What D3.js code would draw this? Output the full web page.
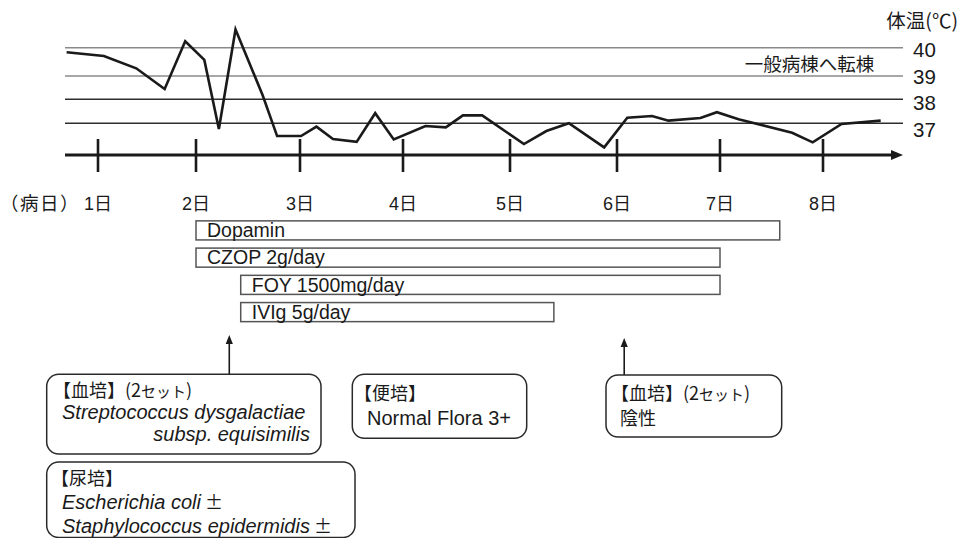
<!DOCTYPE html>
<html><head><meta charset="utf-8">
<script src="https://cdn.jsdelivr.net/npm/d3@7/dist/d3.min.js"></script>
<style>
html,body{margin:0;padding:0;background:#fff;}
svg{display:block;}
.lat{font-family:"Liberation Sans",Arial,sans-serif;}
.cjk{font-family:"Noto Sans CJK JP","Noto Sans CJK SC",sans-serif;}
</style></head>
<body>
<svg id="chart" width="960" height="538"></svg>
<script>
// ---------- data ----------
const days = [1, 2, 3, 4, 5, 6, 7, 8];
const dayLabels = ["1日", "2日", "3日", "4日", "5日", "6日", "7日", "8日"];
const tempTicks = [37, 38, 39, 40];
const tempTickLabels = ["37", "38", "39", "40"];
const tempDays = [0.68, 1.06, 1.39, 1.68, 1.89, 2.08, 2.22, 2.38, 2.64, 2.78, 3.01, 3.16, 3.32, 3.55, 3.73, 3.91,
  4.21, 4.40, 4.56, 4.74, 5.13, 5.34, 5.55, 5.88, 6.10, 6.34, 6.50, 6.81, 6.97, 7.18, 7.70, 7.90, 8.18, 8.56];
const tempValues = [39.84, 39.71, 39.27, 38.44, 40.23, 39.57, 36.76, 40.65, 38.18, 36.47, 36.47, 36.86, 36.35, 36.23, 37.42, 36.33,
  36.89, 36.83, 37.33, 37.33, 36.14, 36.68, 37.00, 36.00, 37.23, 37.30, 37.11, 37.22, 37.46, 37.17, 36.61, 36.21, 36.97, 37.11];
const drugNames = ["Dopamin", "CZOP 2g/day", "FOY 1500mg/day", "IVIg 5g/day"];
const drugStart = [2.0, 2.0, 2.43, 2.43];
const drugEnd = [7.58, 7.0, 7.0, 5.41];
const cultureArrowDays = [2.32, 6.07];
const transferDay = 7.24;
const transferLabel = "一般病棟へ転棟";
const unitLabel = "体温(℃)";
const dayAxisLabel = "（病日）";

// ---------- layout ----------
const W = 960, H = 538;
const plotLeft = 65, plotRight = 903, axisY = 155;
const svg = d3.select("#chart");

const x = d3.scaleLinear().domain(days).range([98, 196, 300, 403, 510, 617, 720, 823]);
const y = d3.scaleLinear().domain(tempTicks).range([123.3, 99.2, 75.9, 47.8]);
const yLabel = d3.scaleLinear().domain([37, 40]).range([136.5, 57.3]);
const band = d3.scaleBand().domain(drugNames).range([219.5, 323]).paddingInner(0.3).paddingOuter(0.05);

// gridlines
svg.append("g").selectAll("line").data(tempTicks).join("line")
  .attr("x1", plotLeft).attr("x2", plotRight)
  .attr("y1", d => y(d)).attr("y2", d => y(d))
  .attr("stroke", d => d >= 39 ? "#8a8a8a" : "#2e2e2e")
  .attr("stroke-width", 1.5);

// temp tick labels
svg.append("g").selectAll("text").data(tempTicks).join("text")
  .attr("class", "lat")
  .attr("x", 913).attr("y", d => yLabel(d))
  .attr("font-size", 20.5).attr("fill", "#1a1a1a")
  .text((d, i) => tempTickLabels[i]);

// unit label
svg.append("text").attr("class", "cjk")
  .attr("x", 958).attr("y", 28).attr("text-anchor", "end")
  .attr("font-size", 19.5).attr("fill", "#1a1a1a").text(unitLabel);

// transfer annotation
svg.append("text").attr("class", "cjk")
  .attr("x", x(transferDay)).attr("y", 71)
  .attr("font-size", 18.5).attr("fill", "#1a1a1a").text(transferLabel);

// temperature line
const tempData = tempDays.map((d, i) => ({ day: d, temp: tempValues[i] }));
svg.append("path").datum(tempData)
  .attr("fill", "none").attr("stroke", "#1a1a1a").attr("stroke-width", 2.6)
  .attr("stroke-linejoin", "miter")
  .attr("d", d3.line().x(d => x(d.day)).y(d => y(d.temp)));

// day axis
svg.append("line").attr("x1", plotLeft).attr("x2", plotRight - 8)
  .attr("y1", axisY).attr("y2", axisY)
  .attr("stroke", "#1a1a1a").attr("stroke-width", 3.2);
svg.append("path")
  .attr("d", `M${plotRight},${axisY} L${plotRight - 12},${axisY - 5} L${plotRight - 12},${axisY + 5} Z`)
  .attr("fill", "#1a1a1a");
svg.append("g").selectAll("line").data(days).join("line")
  .attr("x1", d => x(d)).attr("x2", d => x(d))
  .attr("y1", 139).attr("y2", 172)
  .attr("stroke", "#1a1a1a").attr("stroke-width", 2.6);

// day labels
svg.append("g").selectAll("text").data(days).join("text")
  .attr("x", d => x(d)).attr("y", 210)
  .attr("text-anchor", "middle")
  .style("font-family", '"Liberation Sans",Arial,"Noto Sans CJK JP",sans-serif')
  .attr("font-size", 18).attr("fill", "#1a1a1a")
  .text((d, i) => dayLabels[i]);
svg.append("text").attr("class", "cjk")
  .attr("x", 0).attr("y", 210).attr("font-size", 18.5).attr("fill", "#1a1a1a")
  .attr("letter-spacing", 1.5)
  .text(dayAxisLabel);

// drug bars
const bars = svg.append("g").selectAll("g").data(drugNames).join("g");
bars.append("rect")
  .attr("x", (d, i) => x(drugStart[i]))
  .attr("y", d => band(d))
  .attr("width", (d, i) => x(drugEnd[i]) - x(drugStart[i]))
  .attr("height", band.bandwidth())
  .attr("fill", "#fff").attr("stroke", "#555").attr("stroke-width", 1.5);
bars.append("text").attr("class", "lat")
  .attr("x", (d, i) => x(drugStart[i]) + 11)
  .attr("y", d => band(d) + band.bandwidth() / 2 + 6.8)
  .attr("font-size", 19.5).attr("fill", "#1a1a1a")
  .text(d => d);

// culture arrows
const arrowTop = [335, 338];
cultureArrowDays.forEach((d, i) => {
  const ax = x(d);
  svg.append("line").attr("x1", ax).attr("x2", ax)
    .attr("y1", 375).attr("y2", arrowTop[i] + 6)
    .attr("stroke", "#1a1a1a").attr("stroke-width", 1.6);
  svg.append("path")
    .attr("d", `M${ax},${arrowTop[i]} L${ax - 3.6},${arrowTop[i] + 9} L${ax + 3.6},${arrowTop[i] + 9} Z`)
    .attr("fill", "#1a1a1a");
});

// culture boxes (layout)
const boxes = [
  { x: 46.7, y: 374.3, w: 274.3, h: 79.7 },
  { x: 46.7, y: 462, w: 308.3, h: 75.5 },
  { x: 352.3, y: 374.3, w: 174.4, h: 64 },
  { x: 606, y: 375, w: 175.7, h: 62 }
];
svg.append("g").selectAll("rect").data(boxes).join("rect")
  .attr("x", d => d.x).attr("y", d => d.y).attr("width", d => d.w).attr("height", d => d.h)
  .attr("rx", 12).attr("ry", 12)
  .attr("fill", "#fff").attr("stroke", "#2a2a2a").attr("stroke-width", 1.5);

function cjkText(tx, ty, s) {
  return svg.append("text").attr("class", "cjk").attr("x", tx).attr("y", ty)
    .attr("font-size", 18).attr("fill", "#1a1a1a").text(s);
}
function bloodTitle(tx, ty) {
  const t = svg.append("text").attr("class", "cjk").attr("x", tx).attr("y", ty)
    .attr("font-size", 18).attr("fill", "#1a1a1a");
  t.append("tspan").text("【血培】(2");
  t.append("tspan").attr("font-size", 15).text("セット");
  t.append("tspan").text(")");
}
function latText(tx, ty, s, opts = {}) {
  const t = svg.append("text").attr("class", "lat").attr("x", tx).attr("y", ty)
    .attr("font-size", 20).attr("fill", "#1a1a1a");
  if (opts.anchor) t.attr("text-anchor", opts.anchor);
  t.append("tspan").attr("font-style", opts.italic ? "italic" : "normal").text(s);
  if (opts.pm) t.append("tspan").attr("class", "cjk").attr("font-size", 18).text(" ±");
  return t;
}
// box 1
bloodTitle(53, 397);
latText(62, 419, "Streptococcus dysgalactiae", { italic: true });
latText(310, 441, "subsp. equisimilis", { italic: true, anchor: "end" });
// box 2
cjkText(51, 485, "【尿培】");
latText(62, 509, "Escherichia coli", { italic: true, pm: true });
latText(62, 533, "Staphylococcus epidermidis", { italic: true, pm: true });
// box 3
cjkText(354, 400, "【便培】");
latText(367, 425, "Normal Flora 3+");
// box 4
bloodTitle(611, 400);
cjkText(620, 425, "陰性");
</script>
</body></html>
